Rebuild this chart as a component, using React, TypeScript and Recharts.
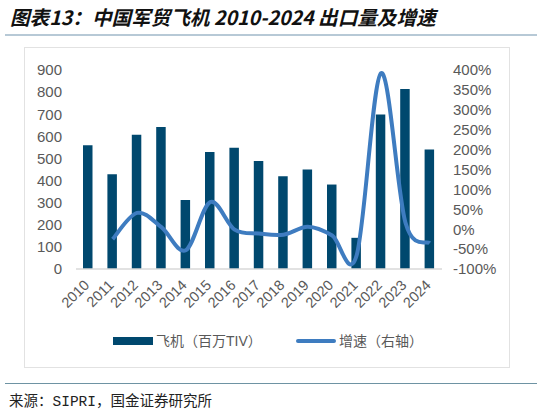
import React from 'react';
import { ComposedChart, Bar, Line, XAxis, YAxis } from 'recharts';

const years = ['2010', '2011', '2012', '2013', '2014', '2015', '2016', '2017', '2018', '2019', '2020', '2021', '2022', '2023', '2024'];
const aircraft = [560, 428, 607, 642, 312, 529, 548, 488, 420, 450, 382, 141, 699, 814, 541];
const growth: (number | null)[] = [null, -25, 41, 5, -53, 68, -1, -11, -14, 6, -16, -66, 392, 17, -35];
const leftTicks = [0, 100, 200, 300, 400, 500, 600, 700, 800, 900];
const rightTicks = [-100, -50, 0, 50, 100, 150, 200, 250, 300, 350, 400];
const boundaryTicks = [0, 1, 2, 3, 4, 5, 6, 7, 8, 9, 10, 11, 12, 13, 14, 15];

const data = years.map((y, i) => ({ year: y, aircraft: aircraft[i], growth: growth[i] }));

const BAR_COLOR = '#00486e';
const LINE_COLOR = '#3e7cc0';
const TEXT_COLOR = '#595959';
const AXIS_FONT = '"Liberation Sans", Arial, sans-serif';

// Excel-like smooth line (Catmull-Rom through the points)
function smoothCurve(context: any) {
  let pts: number[][] = [];
  return {
    areaStart() {},
    areaEnd() {},
    lineStart() {
      pts = [];
    },
    point(x: number, y: number) {
      pts.push([+x, +y]);
    },
    lineEnd() {
      if (!pts.length) return;
      context.moveTo(pts[0][0], pts[0][1]);
      for (let i = 0; i < pts.length - 1; i++) {
        const p0 = pts[i - 1] || pts[i];
        const p1 = pts[i];
        const p2 = pts[i + 1];
        const p3 = pts[i + 2] || p2;
        const c1x = p1[0] + (p2[0] - p0[0]) / 6;
        const c1y = p1[1] + (p2[1] - p0[1]) / 6;
        const c2x = p2[0] - (p3[0] - p1[0]) / 6;
        const c2y = p2[1] - (p3[1] - p1[1]) / 6;
        context.bezierCurveTo(c1x, c1y, c2x, c2y, p2[0], p2[1]);
      }
    },
  };
}

const YearTick = (props: any) => {
  const { x, y, payload } = props;
  const px = x + 2;
  const py = y + 17;
  return (
    <text
      x={px}
      y={py}
      transform={`rotate(-45, ${px}, ${py})`}
      textAnchor="end"
      fill={TEXT_COLOR}
      fontSize={14.5}
      fontFamily={AXIS_FONT}
    >
      {payload.value}
    </text>
  );
};

export default function App() {
  return (
    <div
      style={{
        position: 'absolute',
        left: 0,
        top: 0,
        width: 542,
        height: 415,
        background: '#ffffff',
        overflow: 'hidden',
      }}
    >
      <div
        style={{
          position: 'absolute',
          left: 10,
          top: 4,
          fontFamily: '"Noto Sans CJK SC", sans-serif',
          fontSize: 19.6,
          fontWeight: 700,
          fontStyle: 'italic',
          color: '#111',
          lineHeight: '26px',
          whiteSpace: 'nowrap',
        }}
      >
        图表13：中国军贸飞机 2010-2024 出口量及增速
      </div>
      <div style={{ position: 'absolute', left: 5, top: 33.5, width: 532, height: 2, background: '#b7c9d6' }} />
      <div
        style={{
          position: 'absolute',
          left: 24,
          top: 47,
          width: 484,
          height: 319,
          border: '1.5px solid #e2e2e2',
        }}
      />
      <div style={{ position: 'absolute', left: 0, top: 0 }}>
        <ComposedChart
          width={542}
          height={415}
          data={data}
          margin={{ top: 70, right: 20, bottom: 97, left: 16 }}
        >
          <XAxis
            xAxisId="num"
            type="number"
            domain={[0, 15]}
            ticks={boundaryTicks}
            allowDataOverflow
            height={1}
            mirror
            tick={false}
            tickSize={4}
            axisLine={{ stroke: '#d9d9d9', strokeWidth: 1.5 }}
            tickLine={{ stroke: '#d9d9d9', strokeWidth: 1.2 }}
          />
          <XAxis
            xAxisId="cat"
            dataKey="year"
            type="category"
            height={49}
            axisLine={false}
            tickLine={false}
            tickSize={0}
            tickMargin={0}
            interval={0}
            tick={<YearTick />}
          />
          <YAxis
            yAxisId="left"
            orientation="left"
            width={60}
            domain={[0, 900]}
            ticks={leftTicks}
            interval={0}
            axisLine={false}
            tickLine={false}
            tickSize={0}
            tickMargin={14}
            tick={{ fill: TEXT_COLOR, fontSize: 15, fontFamily: AXIS_FONT }}
          />
          <YAxis
            yAxisId="right"
            orientation="right"
            width={80}
            domain={[-100, 400]}
            ticks={rightTicks}
            interval={0}
            axisLine={false}
            tickLine={false}
            tickSize={0}
            tickMargin={11}
            tickFormatter={(v: number) => `${v}%`}
            tick={{ fill: TEXT_COLOR, fontSize: 15, fontFamily: AXIS_FONT, textAnchor: 'start' }}
          />
          <Bar
            xAxisId="cat"
            yAxisId="left"
            dataKey="aircraft"
            name="飞机（百万TIV）"
            fill={BAR_COLOR}
            barSize={9.5}
            isAnimationActive={false}
          />
          <Line
            xAxisId="cat"
            yAxisId="right"
            dataKey="growth"
            name="增速（右轴）"
            type={smoothCurve as any}
            stroke={LINE_COLOR}
            strokeWidth={4}
            dot={false}
            activeDot={false}
            isAnimationActive={false}
          />
        </ComposedChart>
      </div>
      {/* legend */}
      <div style={{ position: 'absolute', left: 113, top: 337, width: 40, height: 8, background: BAR_COLOR }} />
      <div
        style={{
          position: 'absolute',
          left: 156,
          top: 331,
          fontFamily: '"Liberation Sans", "Noto Sans CJK SC", sans-serif',
          fontSize: 14,
          lineHeight: '20px',
          color: TEXT_COLOR,
          whiteSpace: 'nowrap',
        }}
      >
        飞机（百万TIV）
      </div>
      <div
        style={{ position: 'absolute', left: 296, top: 339, width: 40, height: 4, borderRadius: 2, background: LINE_COLOR }}
      />
      <div
        style={{
          position: 'absolute',
          left: 339,
          top: 331,
          fontFamily: '"Liberation Sans", "Noto Sans CJK SC", sans-serif',
          fontSize: 14,
          lineHeight: '20px',
          color: TEXT_COLOR,
          whiteSpace: 'nowrap',
        }}
      >
        增速（右轴）
      </div>
      <div style={{ position: 'absolute', left: 5, top: 382.5, width: 532, height: 1.5, background: '#6e93a3' }} />
      <div
        style={{
          position: 'absolute',
          left: 9,
          top: 392,
          fontFamily: '"Liberation Mono", "Noto Sans CJK SC", monospace',
          fontSize: 14.5,
          lineHeight: '20px',
          color: '#222',
          whiteSpace: 'nowrap',
        }}
      >
        来源：SIPRI，国金证券研究所
      </div>
    </div>
  );
}
